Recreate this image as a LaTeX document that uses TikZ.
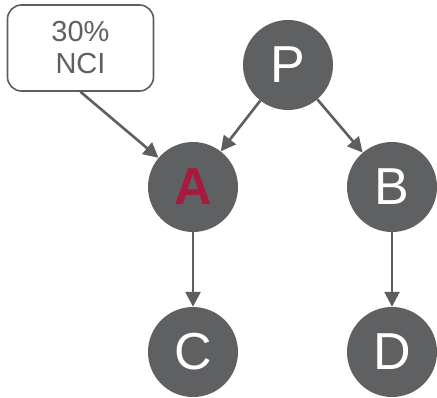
\documentclass[tikz,border=0pt]{standalone}
\usepackage{fontspec}
\setmainfont{Liberation Sans}
\usetikzlibrary{arrows.meta}
\definecolor{nodegray}{HTML}{5F6062}
\definecolor{linegray}{HTML}{5E5E5E}
\definecolor{accentred}{HTML}{A8193D}
\begin{document}
\begin{tikzpicture}[x=1pt,y=-1pt,
  entity/.style={circle,fill=nodegray,minimum size=90pt,inner sep=0pt,
    text=white,font=\fontsize{52}{56}\selectfont},
  note/.style={draw=linegray,line width=1.6pt,rounded corners=14pt,fill=white,
    minimum width=146pt,minimum height=86pt,inner sep=0pt,align=center,
    text=nodegray,font=\fontsize{29}{32}\selectfont},
  link/.style={draw=linegray,line width=2.6pt,
    -{Triangle[length=15pt,width=15pt]}}]
\useasboundingbox (0,0) rectangle (437,397);
\node[entity] (P) at (288,65) {P};
\node[entity] (A) at (193,187) {\textcolor{accentred}{\textbf{A}}};
\node[entity] (B) at (392,187) {B};
\node[entity] (C) at (193,352) {C};
\node[entity] (D) at (392,352) {D};
\node[note] (N) at (80.5,48) {30\%\\NCI};
\draw[link] (N.south) -- (A);
\draw[link] (P) -- (A);
\draw[link] (P) -- (B);
\draw[link] (A) -- (C);
\draw[link] (B) -- (D);
\end{tikzpicture}
\end{document}
